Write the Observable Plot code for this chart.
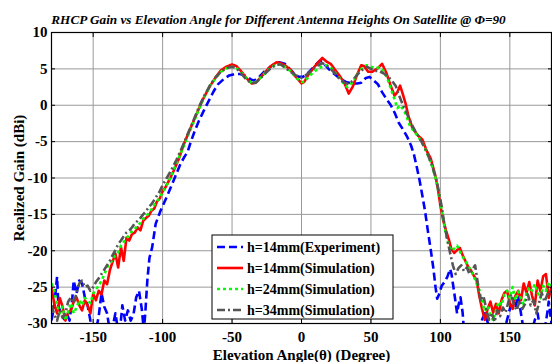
<!DOCTYPE html>
<html><head><meta charset="utf-8">
<script src="https://cdn.jsdelivr.net/npm/d3@7"></script>
<script src="https://cdn.jsdelivr.net/npm/@observablehq/plot@0.6"></script>
<style>
body{margin:0;background:#fff}
svg{font-family:"Liberation Serif","Times New Roman",serif}
</style>
</head><body><div id="chart"></div>
<script>
const titleText = "RHCP Gain vs Elevation Angle for Different Antenna Heights On Satellite @ \u03A6=90";
const xLabel = "Elevation Angle(\u03B8) (Degree)";
const yLabel = "Realized Gain (dBi)";
const xTicks = [-150,-100,-50,0,50,100,150];
const yTicks = [-30,-25,-20,-15,-10,-5,0,5,10];
const seriesNames = ["h=14mm(Experiment)","h=14mm(Simulation)","h=24mm(Simulation)","h=34mm(Simulation)"];
const seriesColors = ["#0000ff","#ff0000","#00ff00","#555555"];
const seriesDash = ["8,4",null,"3,3","8,3,2,3"];

// [angle (deg), gain (dBi)]
const exp14 = [[-180,-29.6],[-178,-27.5],[-176,-23.6],[-175,-27.7],[-173,-28.6],[-171,-29.4],[-169,-28.6],[-167,-29.6],[-165,-26.5],[-164,-24.1],[-162,-25.9],[-160,-24.1],[-158,-24.5],[-156,-26.4],[-154,-27.5],[-152,-29.6],[-150,-31],[-148,-31],[-146,-29],[-144,-25.8],[-142,-27.7],[-140,-28.6],[-138,-31],[-136,-30.5],[-134,-28.6],[-132,-31],[-130,-29.5],[-129,-27.5],[-127,-29.6],[-125,-28.2],[-123,-29.6],[-121,-28.8],[-119,-26.4],[-117,-25.5],[-115,-28],[-113.5,-31],[-112.5,-28.6],[-111,-24.1],[-109.5,-21],[-107.5,-19.5],[-105,-16.3],[-101.5,-14.5],[-97,-12.6],[-92,-10.3],[-87,-8.0],[-84,-7.0],[-82,-6.4],[-80,-5.2],[-77,-3.6],[-74,-2.2],[-70,-0.6],[-66,0.9],[-63,2.0],[-60,2.9],[-56,3.6],[-52,4.1],[-48,4.3],[-44,4.3],[-40,4.0],[-36,3.5],[-34,3.4],[-31,3.8],[-27,4.6],[-23,5.2],[-19,5.7],[-16,5.9],[-12,5.7],[-9,5.1],[-5,4.3],[-2,3.9],[1,3.9],[4,4.3],[7,4.9],[10,5.5],[13,6.1],[15,6.0],[18,5.3],[21,4.7],[25,4.1],[28,3.6],[32,3.2],[36,3.0],[40,3.0],[43,3.1],[46,3.7],[49,3.9],[52,3.4],[55,2.9],[58,1.8],[61,0.9],[64,0.1],[67,-1.0],[70,-2.4],[73,-3.3],[76,-4.3],[79,-5.6],[81,-6.8],[83,-8.5],[85,-10.3],[87,-12.4],[89,-14.6],[91,-17.3],[93,-19.8],[95,-22.5],[96.5,-25],[97.7,-26.6],[99,-26.0],[101,-24.8],[103,-24.3],[105,-23.6],[107,-22.5],[108,-23.2],[110,-25.8],[112,-28.6],[113,-27.5],[114.5,-26.4],[116,-28.5],[117,-31],[128,-31],[130,-29.5],[132,-28.6],[134,-29.8],[136,-31],[146,-31],[148,-29.5],[150,-28],[152,-26.5],[154,-27.8],[156,-26.2],[158,-28.6],[160,-31],[166,-31],[168,-29.5],[170,-28.6],[172,-31],[175,-31],[177,-28.5],[178,-27],[179,-28.5],[180,-30]];

const sim14 = [[-180,-25],[-178,-27.3],[-176,-28.6],[-174,-26.5],[-172,-27.7],[-170,-29.6],[-168,-28.5],[-166,-28.2],[-164,-27],[-162,-26.4],[-160,-27.5],[-158,-28.2],[-156,-26.8],[-154,-27.5],[-152,-28.6],[-150,-25.9],[-148,-26.8],[-146,-25.5],[-144,-26],[-142,-24.1],[-140,-24.6],[-138,-22.7],[-136,-21.5],[-134,-20.4],[-132,-22.3],[-130,-19.5],[-128,-21.4],[-126,-18.2],[-124,-18.6],[-122,-17.7],[-120,-17.5],[-118,-16.8],[-116,-17.2],[-114,-15.9],[-112,-15.5],[-110,-15.2],[-108,-14.5],[-106,-14.2],[-104,-13.2],[-102,-12.8],[-100,-11.8],[-98,-11.3],[-95,-10.2],[-92,-9],[-88,-7.2],[-85,-5.5],[-82,-4.1],[-78,-2.3],[-74,-0.5],[-70,1.2],[-66,2.6],[-62,3.8],[-58,4.8],[-54,5.3],[-50,5.6],[-47,5.4],[-44,4.8],[-40,3.8],[-36,3.0],[-33,3.1],[-30,3.7],[-26,4.6],[-22,5.4],[-18,5.9],[-15,5.8],[-12,5.5],[-8,4.9],[-4,3.9],[0,3.0],[2,3.2],[5,4.2],[9,5.2],[12,5.9],[15,6.5],[18,6.0],[21,5.7],[24,4.9],[28,3.9],[31,3.0],[34,1.6],[37,2.6],[40,4.2],[43,5.5],[45,5.4],[48,4.6],[51,4.6],[55,5.1],[58,5.7],[61,4.5],[64,2.8],[67,1.3],[69,1.8],[71,2.7],[73,1.5],[75,0.2],[77,-1.5],[80,-3.2],[84,-4.2],[87,-4.7],[90,-6.2],[93,-7.3],[96,-9.4],[98,-11.2],[100,-13.8],[102,-15.8],[104,-17.2],[106,-18.4],[108,-19.8],[110,-20.3],[112,-19.9],[114,-19.6],[116,-20.6],[118,-21.4],[120,-22.2],[122,-22.7],[124,-23.4],[126,-24.0],[128,-26.2],[130,-28.0],[132,-29.5],[134,-28],[136,-27],[138,-28.5],[140,-27.3],[142,-28.6],[144,-26.8],[146,-25.8],[148,-25.5],[150,-27.2],[152,-28],[154,-26.2],[156,-25.5],[158,-26.8],[160,-24.5],[162,-25.8],[164,-24.3],[166,-26.2],[168,-27.5],[170,-24.1],[172,-25.6],[174,-23.5],[176,-23.2],[178,-26.5],[180,-25]];

const sim24 = [[-180,-24.5],[-178,-25.5],[-176,-27.5],[-174,-28.6],[-172,-27.7],[-170,-29.6],[-168,-28.4],[-166,-27.2],[-164,-28.6],[-162,-27.8],[-160,-26.8],[-158,-27.5],[-156,-26.5],[-154,-26.8],[-152,-27.2],[-150,-25.9],[-148,-25.3],[-146,-24.8],[-144,-24.1],[-142,-23.3],[-140,-22.3],[-138,-21.8],[-136,-21.2],[-134,-20.6],[-132,-20.2],[-130,-19.3],[-128,-18.8],[-126,-18.3],[-124,-17.8],[-122,-17.3],[-120,-17.0],[-118,-16.5],[-116,-16.2],[-114,-15.6],[-112,-15.3],[-110,-14.8],[-108,-14.3],[-106,-13.7],[-104,-13.2],[-102,-12.6],[-100,-12.0],[-97,-11.0],[-94,-9.8],[-90,-8.0],[-86,-6.2],[-82,-4.3],[-78,-2.5],[-74,-0.6],[-70,1.1],[-66,2.6],[-62,3.7],[-58,4.6],[-54,5.1],[-50,5.3],[-47,5.2],[-44,4.6],[-40,3.8],[-36,3.1],[-33,3.2],[-30,3.7],[-26,4.5],[-22,5.2],[-18,5.6],[-15,5.6],[-12,5.3],[-8,4.7],[-4,3.8],[0,3.2],[2,3.2],[5,3.9],[9,4.6],[12,5.0],[15,5.4],[18,5.5],[21,5.2],[24,4.5],[28,3.6],[31,2.8],[33,2.5],[36,3.0],[40,4.2],[44,5.2],[47,5.5],[50,5.3],[53,5.1],[56,5.2],[59,4.7],[62,3.6],[65,1.9],[67,0.8],[69,-0.4],[71,0.0],[73,-0.5],[75,-1.2],[78,-2.8],[81,-3.6],[84,-4.3],[87,-5.2],[90,-6.4],[93,-7.8],[96,-9.6],[98,-11.3],[100,-13.3],[102,-15.6],[104,-17.8],[106,-19.2],[108,-20.0],[110,-19.7],[112,-19.3],[114,-20.1],[116,-20.8],[118,-21.4],[120,-22.1],[122,-22.7],[124,-23.5],[126,-24.5],[128,-25.4],[130,-27.0],[132,-28.3],[134,-27.6],[136,-28.8],[138,-29.6],[140,-28.2],[142,-27.0],[144,-27.5],[146,-26.0],[148,-25.5],[150,-26.5],[152,-25.0],[154,-26.8],[156,-25.6],[158,-26.5],[160,-27.4],[162,-25.8],[164,-25.0],[166,-25.5],[168,-24.6],[170,-25.8],[172,-26.5],[174,-24.8],[176,-25.5],[178,-24.3],[180,-24.8]];

const sim34 = [[-180,-27.5],[-178,-28.8],[-176,-29.6],[-174,-28.2],[-172,-29.2],[-170,-28.6],[-168,-27.0],[-166,-26.4],[-164,-27.2],[-162,-25.8],[-160,-24.5],[-158,-24.1],[-156,-25.0],[-154,-24.8],[-152,-25.5],[-150,-25.0],[-148,-24.3],[-146,-23.8],[-144,-23.2],[-142,-22.6],[-140,-22.0],[-138,-21.4],[-136,-20.6],[-134,-19.9],[-132,-19.1],[-130,-18.6],[-128,-18.0],[-126,-17.5],[-124,-17.2],[-122,-16.8],[-120,-16.2],[-118,-15.9],[-116,-15.5],[-114,-15.0],[-112,-14.6],[-110,-14.0],[-108,-13.6],[-106,-13.0],[-104,-12.4],[-102,-11.8],[-100,-11.0],[-97,-10.0],[-94,-9.0],[-90,-7.5],[-86,-5.8],[-82,-4.0],[-78,-2.2],[-74,-0.3],[-70,1.3],[-66,2.7],[-62,3.8],[-58,4.6],[-54,5.1],[-50,5.3],[-47,5.1],[-44,4.5],[-40,3.6],[-36,3.0],[-33,3.1],[-30,3.6],[-26,4.4],[-22,5.1],[-18,5.6],[-15,5.6],[-12,5.2],[-8,4.6],[-4,4.1],[0,3.8],[3,4.1],[6,4.6],[9,5.1],[12,5.5],[15,5.8],[18,5.5],[21,5.0],[24,4.4],[28,3.5],[31,3.1],[34,2.9],[37,3.4],[40,4.2],[44,4.9],[47,5.3],[50,5.0],[53,4.7],[56,4.7],[59,4.4],[62,4.0],[65,3.4],[68,2.6],[70,1.5],[72,0.5],[74,-0.4],[76,-1.2],[79,-2.5],[82,-3.6],[85,-4.5],[88,-5.6],[91,-6.8],[94,-8.3],[97,-10.2],[99,-12.0],[101,-14.0],[103,-16.5],[105,-18.5],[107,-20.3],[109,-22.0],[111,-23.2],[113,-22.4],[115,-22.0],[117,-22.8],[119,-22.3],[121,-23.2],[123,-22.6],[125,-22.0],[127,-24.5],[129,-27.0],[131,-26.2],[133,-28.0],[135,-29.5],[137,-28.5],[139,-29.8],[141,-28.2],[143,-29.0],[145,-27.8],[147,-28.5],[149,-27.0],[151,-26.0],[153,-27.5],[155,-28.2],[157,-26.8],[159,-28.0],[161,-27.3],[163,-26.0],[165,-27.5],[167,-26.8],[169,-28.6],[171,-27.2],[173,-25.8],[175,-27.0],[177,-26.0],[179,-25.5],[180,-25.8]];

const allSeries = [exp14, sim14, sim24, sim34];
const toRows = (arr) => arr.map(([a, g]) => ({angle: a, gain: g}));

const lineMarks = allSeries.map((s, i) =>
  Plot.line(toRows(s), {
    x: "angle", y: "gain",
    stroke: seriesColors[i],
    strokeWidth: 2.6,
    strokeDasharray: seriesDash[i] || undefined,
    strokeLinecap: "butt",
    strokeLinejoin: "round",
    clip: true
  })
);

const chart = Plot.plot({
  width: 552,
  height: 362,
  marginTop: 32,
  marginBottom: 39,
  marginLeft: 51,
  marginRight: 1,
  style: {fontFamily: "'Liberation Serif','Times New Roman',serif", fontWeight: "bold", fontSize: "15px", background: "white", color: "black", overflow: "visible"},
  x: {domain: [-180, 180]},
  y: {domain: [-30, 10]},
  marks: [
    Plot.gridX(xTicks, {stroke: "#999", strokeOpacity: 1, strokeWidth: 1}),
    Plot.gridY(yTicks, {stroke: "#999", strokeOpacity: 1, strokeWidth: 1}),
    ...lineMarks,
    Plot.frame({stroke: "black", strokeWidth: 1.2}),
    Plot.axisX({ticks: xTicks, tickSize: 0, tickPadding: 8, tickFormat: d => d, label: xLabel, labelAnchor: "center", labelArrow: "none", labelOffset: 36, fontSize: 15, fontWeight: "bold"}),
    Plot.axisY({ticks: yTicks, tickSize: 0, tickPadding: 4, tickFormat: d => d, label: yLabel, labelAnchor: "center", labelArrow: "none", labelOffset: 38, fontSize: 15, fontWeight: "bold"}),
    Plot.axisX({anchor: "top", ticks: xTicks, tickSize: -4, tickFormat: () => "", label: null}),
    Plot.axisX({anchor: "bottom", ticks: xTicks, tickSize: -4, tickFormat: () => "", label: null}),
    Plot.axisY({anchor: "left", ticks: yTicks, tickSize: -4, tickFormat: () => "", label: null}),
    Plot.axisY({anchor: "right", ticks: yTicks, tickSize: -4, tickFormat: () => "", label: null}),
    Plot.text([titleText], {text: d => d, frameAnchor: "top", dx: -23, dy: -18, fontSize: 13.2, fontWeight: "bold", fontStyle: "italic"})
  ]
});

document.getElementById("chart").appendChild(chart);

// Legend box inside the plot
const svg = d3.select(chart);
const lg = svg.append("g").attr("transform", "translate(212,235)").attr("text-anchor", "start");
lg.append("rect").attr("width", 181).attr("height", 84).attr("fill", "white").attr("stroke", "black").attr("stroke-width", 1);
seriesNames.forEach((name, i) => {
  const yy = 12 + i * 21;
  lg.append("line").attr("x1", 5).attr("x2", 31).attr("y1", yy).attr("y2", yy)
    .attr("stroke", seriesColors[i]).attr("stroke-width", 2.6)
    .attr("stroke-dasharray", seriesDash[i] || null);
  lg.append("text").attr("x", 35).attr("y", yy).attr("dy", "0.35em")
    .attr("text-anchor", "start")
    .attr("font-size", 14).attr("font-weight", "bold").attr("fill", "black")
    .text(name);
});
</script>
</body></html>
